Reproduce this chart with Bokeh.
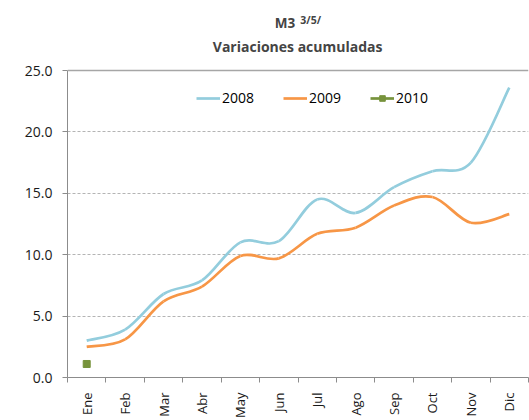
from bokeh.plotting import figure
from bokeh.models import (FixedTicker, NumeralTickFormatter, Span, Label, Legend)
from bokeh.embed import file_html
from bokeh.resources import INLINE

months = ["Ene", "Feb", "Mar", "Abr", "May", "Jun", "Jul", "Ago", "Sep", "Oct", "Nov", "Dic"]
v2008 = [3.0, 3.9, 6.8, 7.9, 11.0, 11.1, 14.5, 13.4, 15.5, 16.8, 17.5, 23.6]
v2009 = [2.5, 3.1, 6.2, 7.4, 9.9, 9.7, 11.7, 12.2, 14.0, 14.7, 12.6, 13.3]
v2010 = [1.1]
y_ticks = [0, 5, 10, 15, 20, 25]

FONT = "Open Sans"
C08 = "#93CDDD"
C09 = "#F79646"
C10 = "#77933C"

# frame spans from top of canvas; the upper part holds the title
Y_TOP = 25 * 377.0 / 307.0

p = figure(width=529, height=420, output_backend="svg", toolbar_location=None,
           x_range=(0.5, 12.5), y_range=(0, Y_TOP),
           min_border_left=67, min_border_right=1, min_border_top=0, min_border_bottom=43)
p.outline_line_color = None
p.background_fill_color = "white"
p.border_fill_color = "white"


def smooth(vals):
    xs = list(range(1, len(vals) + 1))
    n = len(vals)
    pts = list(zip(xs, vals))
    x0, y0, x1, y1, cx0, cy0, cx1, cy1 = [], [], [], [], [], [], [], []
    for i in range(n - 1):
        pa = pts[i - 1] if i > 0 else pts[i]
        pb = pts[i]
        pc = pts[i + 1]
        pd = pts[i + 2] if i + 2 < n else pts[i + 1]
        x0.append(pb[0]); y0.append(pb[1])
        x1.append(pc[0]); y1.append(pc[1])
        cx0.append(pb[0] + (pc[0] - pa[0]) / 6.0)
        cy0.append(pb[1] + (pc[1] - pa[1]) / 6.0)
        cx1.append(pc[0] - (pd[0] - pb[0]) / 6.0)
        cy1.append(pc[1] - (pd[1] - pb[1]) / 6.0)
    return dict(x0=x0, y0=y0, x1=x1, y1=y1, cx0=cx0, cy0=cy0, cx1=cx1, cy1=cy1)


# grid and top line
p.xgrid.visible = False
p.ygrid.ticker = FixedTicker(ticks=[5, 10, 15, 20])
p.ygrid.grid_line_color = "#b4b4b4"
p.ygrid.grid_line_dash = "3 2"
p.ygrid.grid_line_width = 1
p.add_layout(Span(location=25, dimension="width", line_color="#a6a6a6", line_width=1.3))

r08 = p.bezier(source=smooth(v2008), x0="x0", y0="y0", x1="x1", y1="y1",
               cx0="cx0", cy0="cy0", cx1="cx1", cy1="cy1", line_color=C08, line_width=2.7)
r09 = p.bezier(source=smooth(v2009), x0="x0", y0="y0", x1="x1", y1="y1",
               cx0="cx0", cy0="cy0", cx1="cx1", cy1="cy1", line_color=C09, line_width=2.7)
x10 = list(range(1, len(v2010) + 1))
r10l = p.line(x10, v2010, line_color=C10, line_width=2.7)
r10m = p.scatter(x10, v2010, marker="square", size=7, fill_color=C10, line_color=C10)

legend = Legend(items=[("2008", [r08]), ("2009", [r09]), ("2010", [r10l, r10m])],
                orientation="horizontal", location=(129, 270))
legend.border_line_color = None
legend.background_fill_alpha = 0
legend.padding = 0
legend.margin = 0
legend.spacing = 29
legend.glyph_width = 24
legend.glyph_height = 14
legend.label_height = 14
legend.label_standoff = 2
legend.label_text_font = FONT
legend.label_text_font_size = "14px"
legend.label_text_color = "#000000"
p.add_layout(legend)

# y axis
p.yaxis.bounds = (0, 25)
p.yaxis.ticker = FixedTicker(ticks=y_ticks)
p.yaxis.formatter = NumeralTickFormatter(format="0.0")
p.yaxis.axis_line_color = "#8c8c8c"
p.yaxis.major_tick_line_color = "#8c8c8c"
p.yaxis.major_tick_out = 5
p.yaxis.major_tick_in = 0
p.yaxis.minor_tick_line_color = None
p.yaxis.major_label_standoff = 10
p.yaxis.major_label_text_font = FONT
p.yaxis.major_label_text_font_size = "14px"
p.yaxis.major_label_text_color = "#1a1a1a"

# x axis
p.xaxis.ticker = FixedTicker(ticks=list(range(1, 13)),
                             minor_ticks=[i + 0.5 for i in range(0, 13)])
p.xaxis.major_label_overrides = {i + 1: m for i, m in enumerate(months)}
p.xaxis.major_label_orientation = 1.5707963
p.xaxis.axis_line_color = "#8c8c8c"
p.xaxis.major_tick_line_color = None
p.xaxis.minor_tick_line_color = "#8c8c8c"
p.xaxis.minor_tick_out = 5
p.xaxis.minor_tick_in = 0
p.xaxis.major_label_standoff = 9
p.xaxis.major_label_text_font = FONT
p.xaxis.major_label_text_font_size = "13px"
p.xaxis.major_label_text_color = "#1a1a1a"

# titles
p.add_layout(Label(x=6.43, y=28.85, text="M3", text_align="right", text_baseline="alphabetic",
                   text_font=FONT, text_font_style="bold", text_font_size="13.5px"))
p.add_layout(Label(x=6.56, y=29.15, text="3/5/", text_align="left", text_baseline="alphabetic",
                   text_font=FONT, text_font_style="bold", text_font_size="10.5px"))
p.add_layout(Label(x=6.49, y=26.98, text="Variaciones acumuladas", text_align="center",
                   text_baseline="alphabetic", text_font=FONT, text_font_style="bold",
                   text_font_size="14px"))

open("out.html", "w").write(file_html(p, INLINE))
